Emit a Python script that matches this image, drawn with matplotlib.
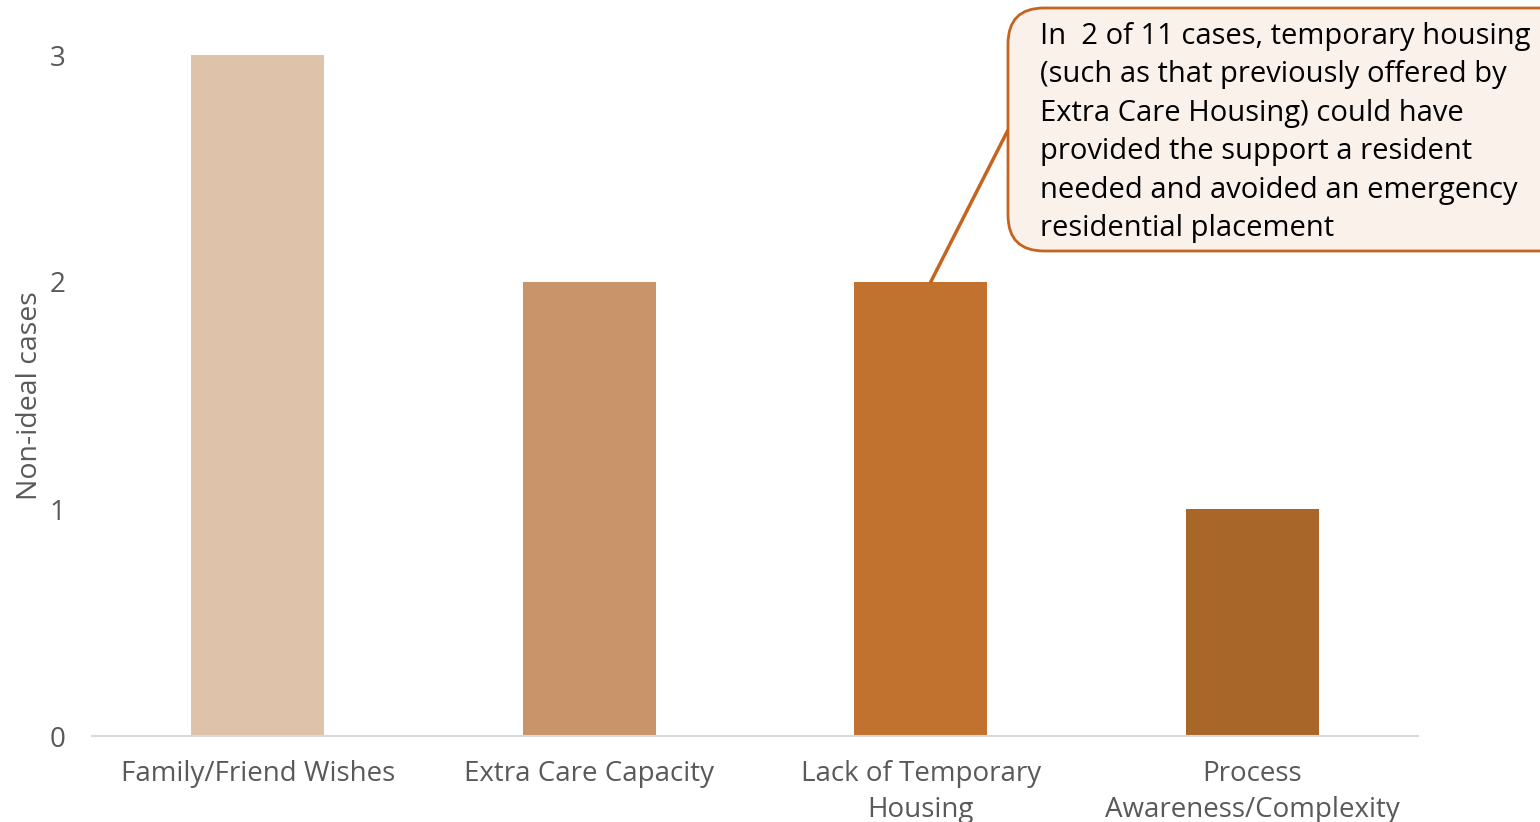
import matplotlib.pyplot as plt
from matplotlib.patches import FancyBboxPatch, ConnectionPatch

categories = ["Family/Friend Wishes", "Extra Care Capacity",
              "Lack of Temporary\nHousing", "Process\nAwareness/Complexity"]
cases = [3, 2, 2, 1]
bar_colors = ["#DEC3AA", "#C99469", "#C2722F", "#A86628"]
y_ticks = [0, 1, 2, 3]
callout_idx = 2
callout_text = ("In  2 of 11 cases, temporary housing\n"
                "(such as that previously offered by\n"
                "Extra Care Housing) could have\n"
                "provided the support a resident\n"
                "needed and avoided an emergency\n"
                "residential placement")

plt.rcParams['font.family'] = ['Open Sans', 'DejaVu Sans']
grey = "#595959"

fig = plt.figure(figsize=(15.4, 8.22), dpi=100)
ax = fig.add_axes([92 / 1540, 86 / 822, 1326 / 1540, 681 / 822])

x = range(len(categories))
ax.bar(x, cases, width=0.4, color=bar_colors, zorder=2)

ax.set_xlim(-0.5, len(categories) - 0.5)
ax.set_ylim(0, 3)
ax.set_yticks(y_ticks)
ax.set_xticks(list(x))
ax.set_xticklabels(categories, fontsize=20, color=grey, linespacing=1.42)
ax.tick_params(axis='y', length=0, pad=19, labelsize=20, labelcolor=grey)
ax.tick_params(axis='x', length=0, pad=17)
ax.set_ylabel("Non-ideal cases", fontsize=20.5, color=grey, labelpad=4)

for side in ("top", "right", "left"):
    ax.spines[side].set_visible(False)
ax.spines["bottom"].set_color("#D9D9D9")
ax.spines["bottom"].set_linewidth(1.5)

# overlay in pixel units for the callout box
ov = fig.add_axes([0, 0, 1, 1], zorder=5)
ov.set_xlim(0, 1540)
ov.set_ylim(822, 0)
ov.axis("off")

edge = "#C4641E"
box = FancyBboxPatch((1008, 8), 600, 243,
                     boxstyle="round,pad=0,rounding_size=36",
                     facecolor="#FBF1EB", edgecolor=edge, linewidth=2,
                     zorder=3)
ov.add_patch(box)
ov.text(1040, 22, callout_text, fontsize=21, va="top", ha="left",
        color="black", linespacing=1.43, zorder=4)

tail = ConnectionPatch(xyA=(callout_idx + 0.03, cases[callout_idx]),
                       coordsA=ax.transData,
                       xyB=(1008, 130), coordsB=ov.transData,
                       color=edge, linewidth=2.5, zorder=2)
fig.add_artist(tail)

fig.savefig("out.png", dpi=100)
